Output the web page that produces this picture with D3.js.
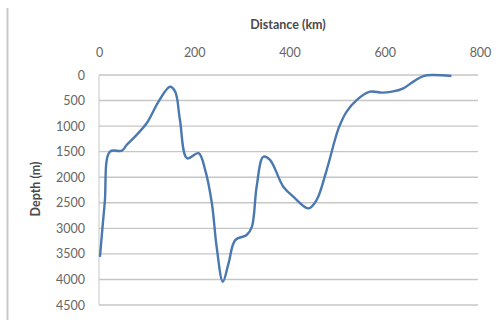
<!DOCTYPE html>
<html>
<head>
<meta charset="utf-8">
<script src="https://cdn.jsdelivr.net/npm/d3@7/dist/d3.min.js"></script>
<style>
  html, body { margin: 0; padding: 0; background: #fff; }
  svg text { font-family: Lato, "Open Sans", sans-serif; }
</style>
</head>
<body>
<svg id="chart" width="496" height="320"></svg>
<script>
// Seafloor profile: distance along the section (km) and water depth (m)
const distanceKm = [2, 12, 23, 48, 58, 72, 100, 125, 149, 160, 170, 185, 209, 223, 237, 247, 260, 272, 286, 310, 321, 331, 345, 359, 387, 408, 440, 457, 478, 503, 520, 541, 569, 594, 615, 639, 660, 681, 702, 740];
const depthM     = [3560, 2500, 1500, 1480, 1370, 1240, 945, 520, 230, 326, 880, 1630, 1530, 1860, 2510, 3360, 4045, 3685, 3230, 3130, 2970, 2185, 1600, 1660, 2185, 2380, 2610, 2445, 1860, 1045, 715, 490, 326, 345, 326, 260, 130, 20, 0, 20];
const xTicks = [0, 200, 400, 600, 800];
const yTicks = [0, 500, 1000, 1500, 2000, 2500, 3000, 3500, 4000, 4500];
const xTitle = "Distance (km)";
const yTitle = "Depth (m)";

const svg = d3.select("#chart");
const plotLeft = 99, plotRight = 480, plotTop = 75, plotBottom = 305;

const x = d3.scaleLinear().domain([0, 800]).range([plotLeft, plotRight]);
const y = d3.scaleLinear().domain([0, 4500]).range([plotTop, plotBottom]);

// outer frame
svg.append("line").attr("x1", 7.5).attr("x2", 7.5).attr("y1", 8).attr("y2", 320)
  .attr("stroke", "#c8c8c8").attr("stroke-width", 2);

// horizontal gridlines
svg.append("g").selectAll("line").data(yTicks).join("line")
  .attr("x1", plotLeft).attr("x2", 478)
  .attr("y1", d => y(d)).attr("y2", d => y(d))
  .attr("stroke", "#c6c6c6").attr("stroke-width", 1.4);

// plot-area left edge
svg.append("line").attr("x1", plotLeft).attr("x2", plotLeft).attr("y1", plotTop).attr("y2", plotBottom)
  .attr("stroke", "#c6c6c6").attr("stroke-width", 1);

// top distance axis
const xAxis = svg.append("g").attr("transform", `translate(0,${plotTop - 18})`)
  .call(d3.axisTop(x).tickValues(xTicks).tickFormat(d3.format("d")).tickSize(0).tickPadding(0));
xAxis.select(".domain").remove();
xAxis.selectAll("text").attr("font-size", 12.5).style("fill", "#666")
  .style("font-family", "Lato, 'Open Sans', sans-serif");

// left depth axis
const yAxis = svg.append("g").attr("transform", `translate(${plotLeft - 14},0)`)
  .call(d3.axisLeft(y).tickValues(yTicks).tickFormat(d3.format("d")).tickSize(0).tickPadding(0));
yAxis.select(".domain").remove();
yAxis.selectAll("text").attr("font-size", 12.5).style("fill", "#666")
  .style("font-family", "Lato, 'Open Sans', sans-serif");

// axis titles
svg.append("text").attr("x", 288).attr("y", 29).attr("text-anchor", "middle")
  .attr("font-size", 12.5).attr("font-weight", "bold").style("fill", "#4a4a4a").text(xTitle);
svg.append("text").attr("transform", "translate(40,189) rotate(-90)")
  .attr("text-anchor", "middle").attr("font-size", 12.5).attr("font-weight", "bold")
  .style("fill", "#4a4a4a").text(yTitle);

// depth profile line
const pts = distanceKm.map((d, i) => [d, depthM[i]]);
svg.append("path").datum(pts)
  .attr("fill", "none").attr("stroke", "#4a78b0").attr("stroke-width", 2.4)
  .attr("stroke-linejoin", "round")
  .attr("d", d3.line().x(d => x(d[0])).y(d => y(d[1])).curve(d3.curveCatmullRom.alpha(0.5)));
</script>
</body>
</html>
